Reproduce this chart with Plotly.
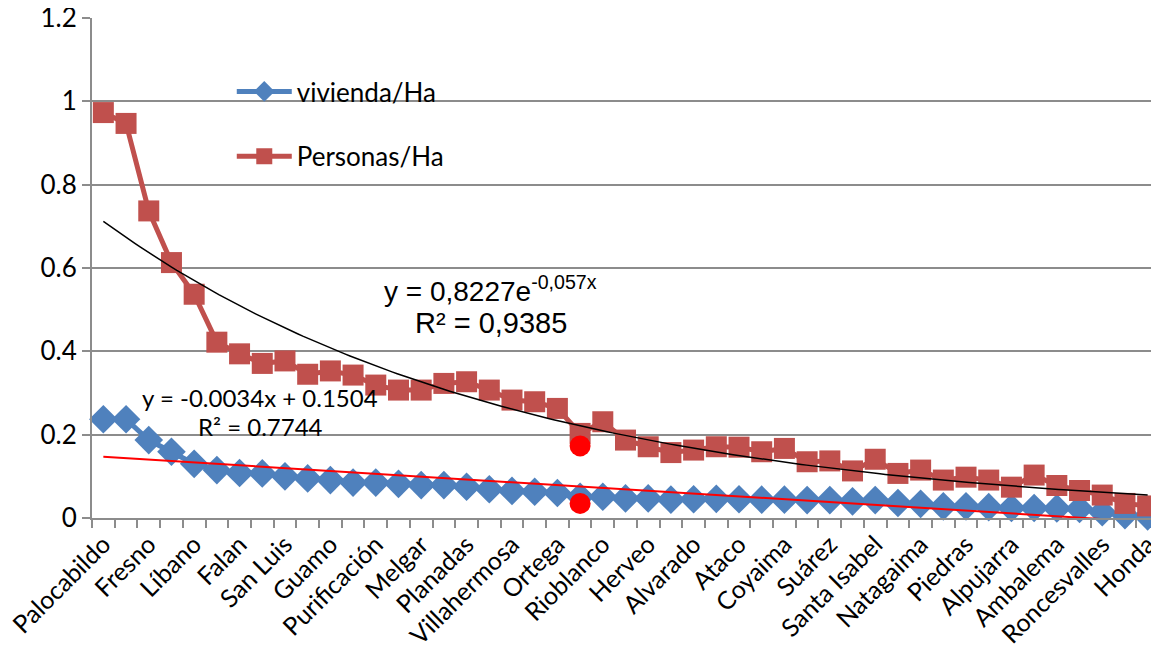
import numpy as np
import plotly.graph_objects as go

# ---- data ----
tick_labels = ["Palocabildo", "Fresno", "Líbano", "Falan", "San Luis", "Guamo",
               "Purificación", "Melgar", "Planadas", "Villahermosa", "Ortega",
               "Rioblanco", "Herveo", "Alvarado", "Ataco", "Coyaima", "Suárez",
               "Santa Isabel", "Natagaima", "Piedras", "Alpujarra", "Ambalema",
               "Roncesvalles", "Honda"]

personas_ha = [0.973, 0.947, 0.737, 0.613, 0.537, 0.422, 0.394, 0.371, 0.377, 0.345,
               0.353, 0.343, 0.319, 0.307, 0.307, 0.323, 0.327, 0.307, 0.283, 0.279,
               0.263, 0.203, 0.231, 0.187, 0.171, 0.157, 0.163, 0.171, 0.170, 0.159,
               0.167, 0.135, 0.137, 0.113, 0.141, 0.107, 0.115, 0.091, 0.098, 0.091,
               0.074, 0.103, 0.078, 0.066, 0.055, 0.035, 0.029]

vivienda_ha = [0.237, 0.237, 0.187, 0.159, 0.130, 0.115, 0.108, 0.107, 0.100, 0.095,
               0.091, 0.085, 0.085, 0.082, 0.079, 0.079, 0.075, 0.069, 0.065, 0.063,
               0.060, 0.051, 0.051, 0.047, 0.047, 0.044, 0.045, 0.046, 0.045, 0.044,
               0.044, 0.043, 0.043, 0.040, 0.043, 0.036, 0.034, 0.028, 0.028, 0.026,
               0.024, 0.024, 0.023, 0.022, 0.014, 0.007, 0.004]

highlight_idx = [21, 21]
highlight_val = [0.173, 0.035]

lin_slope = -0.0034
lin_intercept = 0.1504

eq_exp = "y = 0,8227e<sup>-0,057x</sup>"
r2_exp = "R² = 0,9385"
eq_lin = "y = -0.0034x + 0.1504"
r2_lin = "R² = 0.7744"

# ---- derived ----
n = len(personas_ha)
idx = np.arange(n)
xnum = idx + 1  # Excel trendline x = 1..n

# exponential trendline fitted (log-linear) on the data
b, ln_a = np.polyfit(xnum, np.log(personas_ha), 1)
xs = np.linspace(0, n - 1, 200)
exp_trend = np.exp(ln_a) * np.exp(b * (xs + 1))
lin_trend = lin_slope * (idx + 1) + lin_intercept

BLUE = "#4F81BD"
RED = "#C0504D"
GRID = "#8C8C8C"
FONT = "Lato"

fig = go.Figure()
fig.add_trace(go.Scatter(
    x=idx, y=vivienda_ha, name="vivienda/Ha", mode="lines+markers",
    legendgroup="v",
    line=dict(color=BLUE, width=5),
    marker=dict(symbol="diamond", size=22, color=BLUE),
    cliponaxis=False))
fig.add_trace(go.Scatter(
    x=idx, y=personas_ha, name="Personas/Ha", mode="lines+markers",
    legendgroup="p",
    line=dict(color=RED, width=5),
    marker=dict(symbol="square", size=21, color=RED),
    cliponaxis=False))
fig.add_trace(go.Scatter(
    x=xs, y=exp_trend, mode="lines", showlegend=False,
    line=dict(color="black", width=1.5), hoverinfo="skip"))
fig.add_trace(go.Scatter(
    x=idx, y=lin_trend, mode="lines", showlegend=False,
    line=dict(color="#FF0000", width=2), hoverinfo="skip"))
fig.add_trace(go.Scatter(
    x=highlight_idx, y=highlight_val, mode="markers", showlegend=False,
    marker=dict(symbol="circle", size=21, color="#FF0000"), cliponaxis=False))

tickvals = list(range(0, n, 2))

# page body has an 8px default margin; figure sized to fill the 1159x652 view
fig.update_layout(
    width=1151, height=644,
    margin=dict(l=84, r=0, t=10, b=134, autoexpand=False),
    paper_bgcolor="white", plot_bgcolor="white",
    font=dict(family=FONT, size=24, color="black"),
    showlegend=True,
    legend=dict(x=0.131, y=0.90, xanchor="left", yanchor="top",
                bgcolor="rgba(0,0,0,0)", font=dict(family=FONT, size=26),
                itemwidth=55, tracegroupgap=28),
    xaxis=dict(range=[-0.5, n - 0.5], tickmode="array", tickvals=tickvals,
               ticktext=tick_labels, tickangle=-45, ticks="",
               showgrid=False, zeroline=False, showline=True, automargin=False,
               linecolor=GRID, linewidth=2, ticklabeloverflow="allow",
               minor=dict(tickmode="array", tickvals=[i - 0.5 for i in range(n + 1)],
                          ticks="outside", ticklen=8, tickcolor=GRID, tickwidth=1.5,
                          showgrid=False),
               tickfont=dict(family=FONT, size=25)),
    yaxis=dict(range=[0, 1.2], dtick=0.2, tick0=0, showgrid=True, automargin=False,
               gridcolor=GRID, gridwidth=1.5, zeroline=False, showline=True,
               linecolor=GRID, linewidth=2, ticks="outside", ticklen=8,
               tickcolor=GRID, tickwidth=1.5, ticklabeloverflow="allow",
               tickfont=dict(family=FONT, size=26)),
)

fig.add_annotation(x=17.06, y=0.55, xref="x", yref="y", text=eq_exp,
                   showarrow=False, font=dict(family="Liberation Sans", size=28))
fig.add_annotation(x=17.06, y=0.468, xref="x", yref="y", text=r2_exp,
                   showarrow=False, font=dict(family="Liberation Sans", size=29))
fig.add_annotation(x=6.9, y=0.29, xref="x", yref="y", text=eq_lin,
                   showarrow=False, font=dict(family=FONT, size=24))
fig.add_annotation(x=6.9, y=0.219, xref="x", yref="y", text=r2_lin,
                   showarrow=False, font=dict(family=FONT, size=24))

fig.write_html("out.html")
